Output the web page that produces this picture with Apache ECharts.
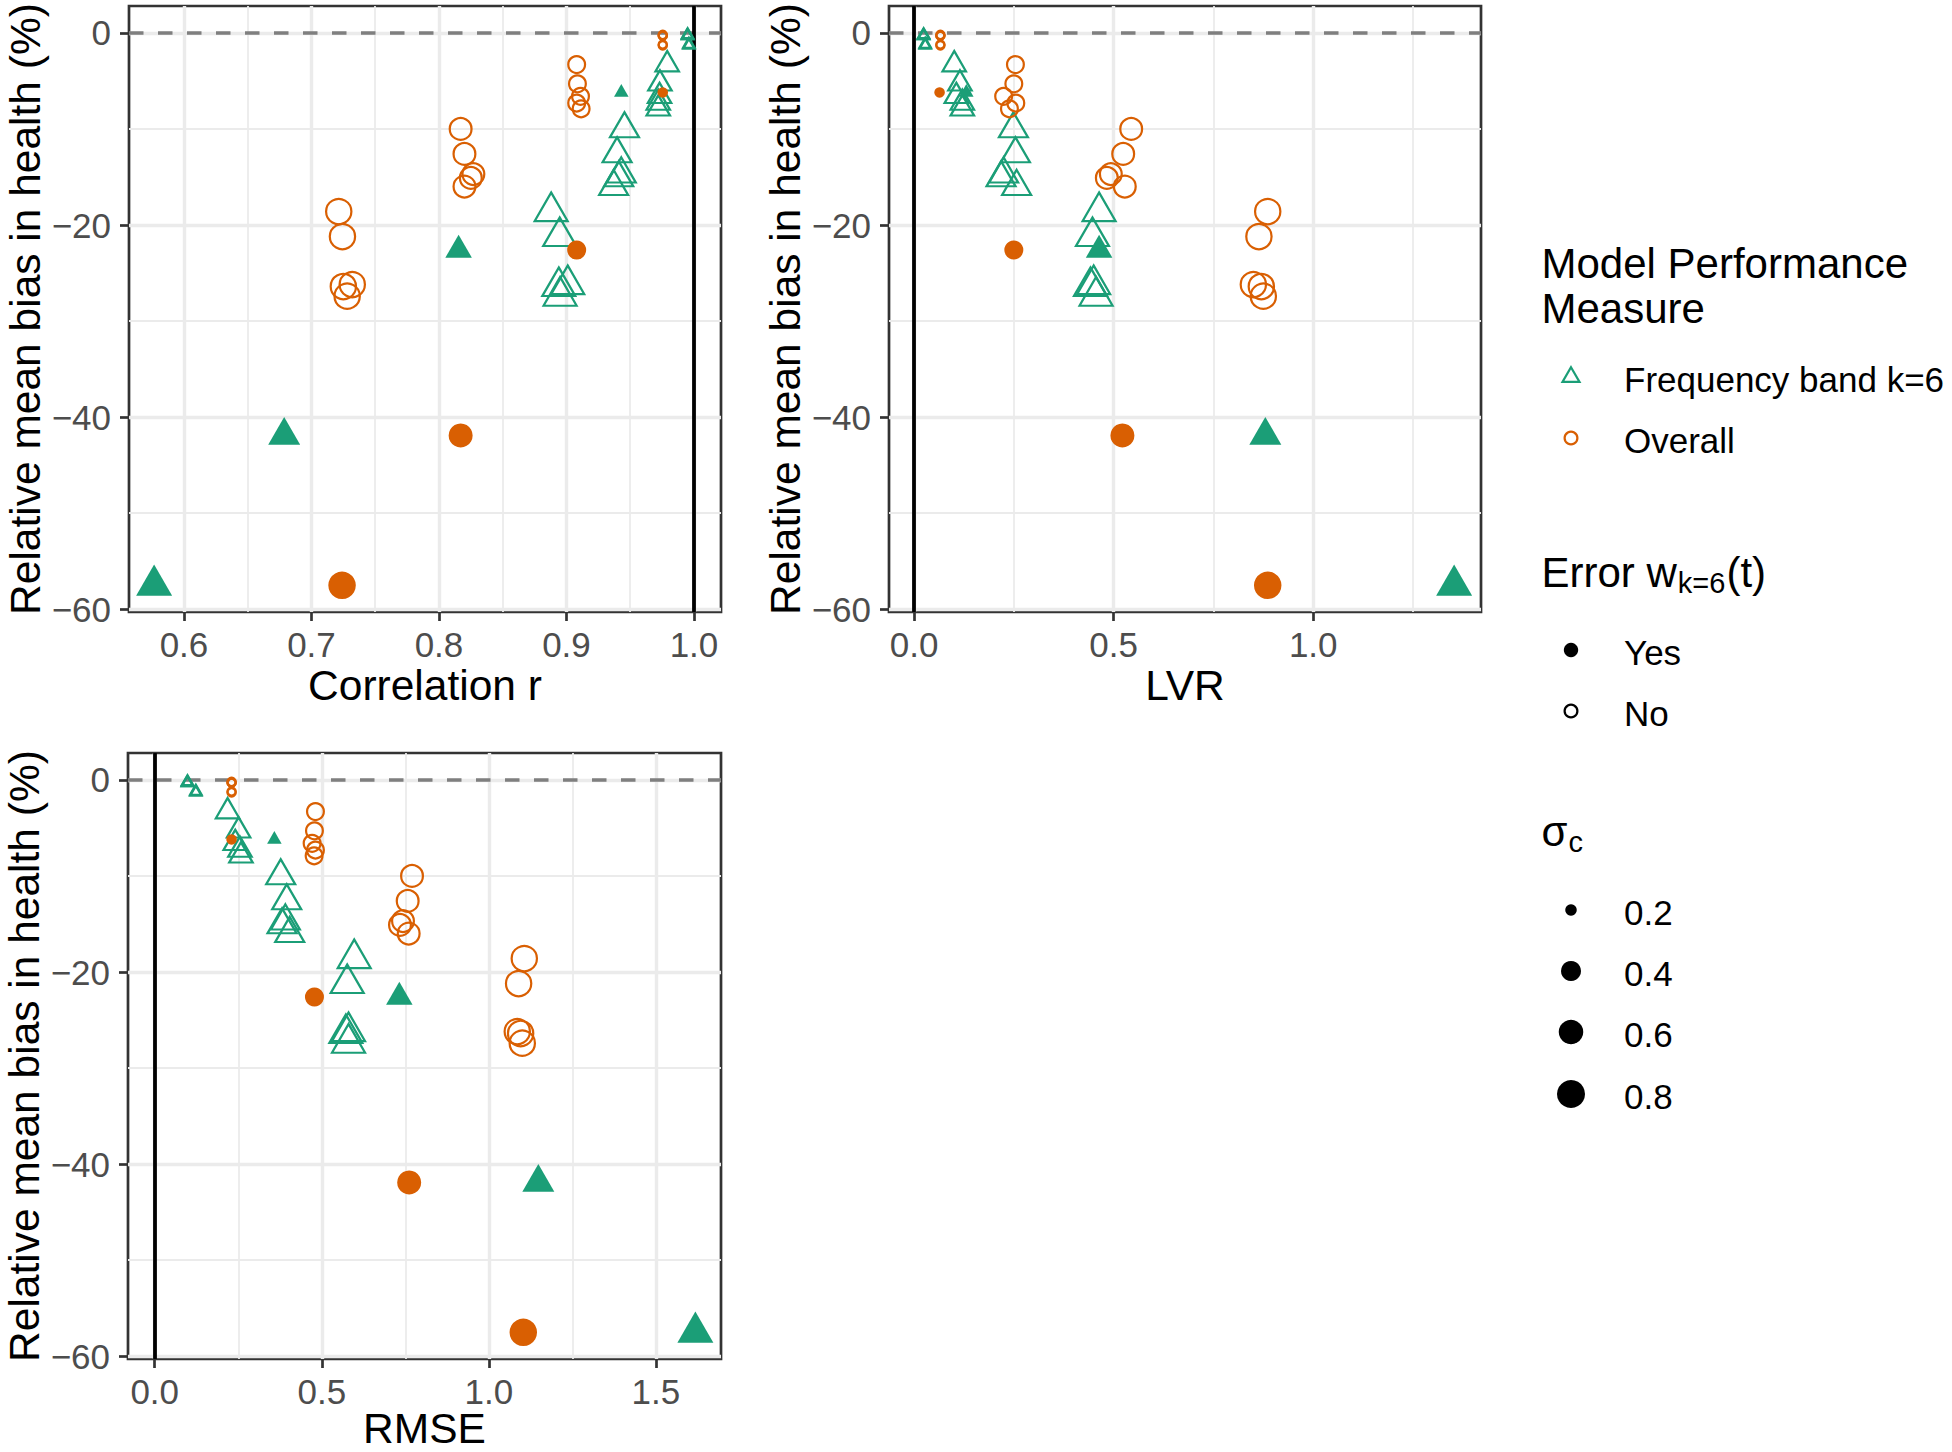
<!DOCTYPE html>
<html>
<head>
<meta charset="utf-8">
<script src="https://cdn.jsdelivr.net/npm/echarts@6/dist/echarts.min.js"></script>
<style>
html,body{margin:0;padding:0;background:#fff;}
#chart{width:1952px;height:1452px;}
</style>
</head>
<body>
<div id="chart"></div>
<script>
// ------------------------------------------------------------------
// DATA (24 scenarios: sigma_c x error in w_k=6(t); same bias for both measures)
// ------------------------------------------------------------------
const sigmaC = [0.2,0.2,0.2,0.2,0.2,0.2, 0.4,0.4,0.4,0.4,0.4,0.4, 0.6,0.6,0.6,0.6,0.6,0.6, 0.8,0.8,0.8,0.8,0.8,0.8];
const errorW = ['Yes','No','No','No','No','No', 'Yes','No','No','No','No','No', 'Yes','No','No','No','No','No', 'Yes','No','No','No','No','No'];
const biasHealth = [-6.2,-0.2,-0.3,-0.3,-1.2,-1.3, -22.6,-3.3,-5.3,-6.6,-7.3,-7.9, -41.9,-10.0,-12.6,-14.7,-15.1,-16.0, -57.5,-18.6,-21.2,-26.2,-26.4,-27.4];

const corrOverall = [0.9755,0.9755,0.9755,0.9755,0.9755,0.9755, 0.908,0.908,0.9086,0.911,0.908,0.9115, 0.817,0.817,0.820,0.827,0.825,0.820, 0.724,0.7214,0.7243,0.732,0.725,0.728];
const corrBand    = [0.943,0.995,0.995,0.995,0.996,0.996, 0.8154,0.979,0.9733,0.973,0.972,0.972, 0.6786,0.9455,0.9397,0.943,0.941,0.937, 0.5766,0.888,0.8947,0.901,0.894,0.895];
const lvrOverall  = [0.064,0.066,0.066,0.066,0.066,0.066, 0.250,0.254,0.250,0.2245,0.255,0.239, 0.522,0.544,0.524,0.493,0.483,0.528, 0.886,0.886,0.864,0.850,0.870,0.875];
const lvrBand     = [0.131,0.024,0.024,0.024,0.028,0.028, 0.4636,0.1007,0.115,0.106,0.121,0.121, 0.880,0.249,0.254,0.2245,0.218,0.257, 1.353,0.4636,0.447,0.450,0.442,0.456];
const rmseOverall = [0.230,0.230,0.230,0.230,0.230,0.230, 0.478,0.481,0.478,0.471,0.481,0.477, 0.7615,0.770,0.757,0.743,0.734,0.760, 1.103,1.106,1.089,1.085,1.095,1.100];
const rmseBand    = [0.358,0.098,0.098,0.098,0.123,0.123, 0.732,0.218,0.251,0.241,0.255,0.258, 1.148,0.377,0.395,0.391,0.381,0.404, 1.618,0.597,0.576,0.580,0.572,0.580];

// reference lines
const refLineX = [1, 0, 0];
const refLineY = [0];

// tick values / labels
const yTicks = [-60, -40, -20, 0];
const yMinor = [-50, -30, -10];
const xTicksCorr = [0.6, 0.7, 0.8, 0.9, 1.0];
const xMinorCorr = [0.65, 0.75, 0.85, 0.95];
const xTicksLvr = [0.0, 0.5, 1.0];
const xMinorLvr = [0.25, 0.75, 1.25];
const xTicksRmse = [0.0, 0.5, 1.0, 1.5];
const xMinorRmse = [0.25, 0.75, 1.25];

const axisTitles = ['Correlation r', 'LVR', 'RMSE'];
const yTitle = 'Relative mean bias in health (%)';
const measureNames = ['Frequency band k=6', 'Overall'];
const errorNames = ['Yes', 'No'];
const sigmaLevels = [0.2, 0.4, 0.6, 0.8];

// ------------------------------------------------------------------
// STYLE / LAYOUT
// ------------------------------------------------------------------
const FONT = '"Liberation Sans", Arial, Helvetica, sans-serif';
const GREEN = '#1B9E77', ORANGE = '#D95F02';
const circleD = {0.2: 10.5, 0.4: 19, 0.6: 24, 0.8: 27.5};
const triW = {0.2: 14.5, 0.4: 26.5, 0.6: 32, 0.8: 36};
const STROKE = 2.2;
const Y_MIN = -60.28, Y_MAX = 2.8;
const TICK_FS = 35, TITLE_FS = 42.5, LEG_TITLE_FS = 42, LEG_FS = 35, SUB_FS = 29;

const panels = [
  {left:129, top:6,   width:592, height:606, xMin:0.5569,  xMax:1.0212, xTicks:xTicksCorr, xMinor:xMinorCorr, xO:corrOverall, xB:corrBand, titleGap:73},
  {left:889, top:6,   width:592, height:606, xMin:-0.0627, xMax:1.4203, xTicks:xTicksLvr,  xMinor:xMinorLvr,  xO:lvrOverall,  xB:lvrBand,  titleGap:73},
  {left:128, top:753, width:593, height:606, xMin:-0.080,  xMax:1.6947, xTicks:xTicksRmse, xMinor:xMinorRmse, xO:rmseOverall, xB:rmseBand, titleGap:69.5}
];

function triItem(x, y, s, open) {
  const w = open ? triW[s] - 3 : triW[s];
  const h = w * 0.866;
  return {value: [x, y], symbolSize: [w, h], symbolOffset: [0, -h / 6]};
}
function circItem(x, y, s, open) {
  const d = open ? circleD[s] - STROKE : circleD[s];
  return {value: [x, y], symbolSize: d};
}
const idx = biasHealth.map((_, k) => k);
const fmt1 = v => v.toFixed(1);
const fmtY = v => (v === 0 ? '0' : '\u2212' + Math.abs(v));

const series = [];
panels.forEach((p, i) => {
  const gridLines = [];
  p.xMinor.forEach(v => gridLines.push({xAxis: v, lineStyle: {color: '#EBEBEB', width: 1.8, type: 'solid'}}));
  yMinor.forEach(v => gridLines.push({yAxis: v, lineStyle: {color: '#EBEBEB', width: 1.8, type: 'solid'}}));
  p.xTicks.forEach(v => gridLines.push({xAxis: v, lineStyle: {color: '#EBEBEB', width: 3.4, type: 'solid'}}));
  yTicks.forEach(v => gridLines.push({yAxis: v, lineStyle: {color: '#EBEBEB', width: 3.4, type: 'solid'}}));
  series.push({
    type: 'scatter', xAxisIndex: i, yAxisIndex: i, z: 1, silent: true, symbol: 'none',
    data: [[p.xMin, Y_MIN]],
    markLine: {silent: true, z: 1, symbol: ['none', 'none'], label: {show: false}, animation: false,
      emphasis: {disabled: true}, data: gridLines}
  });
  const refs = [];
  refLineY.forEach(v => refs.push({yAxis: v, lineStyle: {color: '#7F7F7F', width: 3.6, type: [14.5, 14.5]}}));
  refs.push({xAxis: refLineX[i], lineStyle: {color: '#000000', width: 3.8, type: 'solid'}});
  series.push({
    type: 'scatter', xAxisIndex: i, yAxisIndex: i, z: 2, silent: true, symbol: 'none',
    data: [[p.xMin, Y_MIN]],
    markLine: {silent: true, z: 2, symbol: ['none', 'none'], label: {show: false}, animation: false,
      emphasis: {disabled: true}, data: refs}
  });
  const common = {type: 'scatter', xAxisIndex: i, yAxisIndex: i, z: 3, silent: true, emphasis: {disabled: true}, clip: false};
  series.push(Object.assign({}, common, {
    name: measureNames[0] + ' / No', symbol: 'triangle',
    itemStyle: {color: 'rgba(0,0,0,0)', borderColor: GREEN, borderWidth: STROKE, opacity: 1},
    data: idx.filter(k => errorW[k] === 'No').map(k => triItem(p.xB[k], biasHealth[k], sigmaC[k], true))
  }));
  series.push(Object.assign({}, common, {
    name: measureNames[1] + ' / No', symbol: 'circle',
    itemStyle: {color: 'rgba(0,0,0,0)', borderColor: ORANGE, borderWidth: STROKE, opacity: 1},
    data: idx.filter(k => errorW[k] === 'No').map(k => circItem(p.xO[k], biasHealth[k], sigmaC[k], true))
  }));
  series.push(Object.assign({}, common, {
    name: measureNames[0] + ' / Yes', symbol: 'triangle',
    itemStyle: {color: GREEN, opacity: 1},
    data: idx.filter(k => errorW[k] === 'Yes').map(k => triItem(p.xB[k], biasHealth[k], sigmaC[k], false))
  }));
  series.push(Object.assign({}, common, {
    name: measureNames[1] + ' / Yes', symbol: 'circle',
    itemStyle: {color: ORANGE, opacity: 1},
    data: idx.filter(k => errorW[k] === 'Yes').map(k => circItem(p.xO[k], biasHealth[k], sigmaC[k], false))
  }));
});

// ------------------------------------------------------------------
// GRAPHIC: axis titles + legends
// ------------------------------------------------------------------
const mctx = document.createElement('canvas').getContext('2d');
function tw(text, size) { mctx.font = size + 'px ' + FONT; return mctx.measureText(text).width; }

function textEl(text, x, y, size, opts) {
  opts = opts || {};
  return {
    type: 'text', x: x, y: y, rotation: opts.rotation || 0, silent: true, z: 10,
    style: {text: text, fill: opts.fill || '#000', fontSize: size, fontFamily: FONT,
      align: opts.align || 'left', verticalAlign: 'middle',
      textAlign: opts.align || 'left', textVerticalAlign: 'middle'}
  };
}
const graphics = [];
panels.forEach((p, i) => {
  graphics.push(textEl(axisTitles[i], p.left + p.width / 2, p.top + p.height + p.titleGap, TITLE_FS, {align: 'center'}));
  graphics.push(textEl(yTitle, p.left - 104, p.top + p.height / 2, TITLE_FS, {align: 'center', rotation: Math.PI / 2}));
});

const LX = 1541.5, KX = 1571, TX = 1624;
// legend 1
graphics.push(textEl('Model Performance', LX, 263, LEG_TITLE_FS));
graphics.push(textEl('Measure', LX, 308, LEG_TITLE_FS));
(function () {
  const w = 17, h = w * 0.866, cy = 377;
  graphics.push({type: 'polygon', silent: true, z: 10,
    shape: {points: [[KX, cy - 2 * h / 3], [KX + w / 2, cy + h / 3], [KX - w / 2, cy + h / 3]]},
    style: {fill: 'none', stroke: GREEN, lineWidth: STROKE}});
})();
graphics.push(textEl(measureNames[0], TX, 379, LEG_FS));
graphics.push({type: 'circle', silent: true, z: 10, shape: {cx: KX, cy: 438, r: 6.4},
  style: {fill: 'none', stroke: ORANGE, lineWidth: STROKE}});
graphics.push(textEl(measureNames[1], TX, 440, LEG_FS));
// legend 2
(function () {
  const y = 572;
  const w1 = tw('Error w', LEG_TITLE_FS), w2 = tw('k=6', SUB_FS);
  graphics.push(textEl('Error w', LX, y, LEG_TITLE_FS));
  graphics.push(textEl('k=6', LX + w1 + 1, y + 11, SUB_FS));
  graphics.push(textEl('(t)', LX + w1 + w2 + 2, y, LEG_TITLE_FS));
})();
graphics.push({type: 'circle', silent: true, z: 10, shape: {cx: KX, cy: 650, r: 7.2}, style: {fill: '#000'}});
graphics.push(textEl(errorNames[0], TX, 652, LEG_FS));
graphics.push({type: 'circle', silent: true, z: 10, shape: {cx: KX, cy: 711, r: 6.4},
  style: {fill: 'none', stroke: '#000', lineWidth: STROKE}});
graphics.push(textEl(errorNames[1], TX, 713, LEG_FS));
// legend 3
(function () {
  const y = 831;
  const w1 = tw('\u03C3', LEG_TITLE_FS);
  graphics.push(textEl('\u03C3', LX, y, LEG_TITLE_FS));
  graphics.push(textEl('c', LX + w1 + 1, y + 11, SUB_FS));
})();
const sizeRowY = [910, 971, 1032, 1094];
const sizeKeyD = [11.5, 20, 24.5, 28];
sigmaLevels.forEach((s, j) => {
  graphics.push({type: 'circle', silent: true, z: 10, shape: {cx: KX, cy: sizeRowY[j], r: sizeKeyD[j] / 2}, style: {fill: '#000'}});
  graphics.push(textEl(s.toFixed(1), TX, sizeRowY[j] + 2, LEG_FS));
});

// ------------------------------------------------------------------
const option = {
  animation: false,
  backgroundColor: '#ffffff',
  tooltip: {show: false},
  grid: panels.map(p => ({left: p.left, top: p.top, width: p.width, height: p.height,
    show: true, borderColor: '#333333', borderWidth: 2.7, backgroundColor: '#ffffff',
    containLabel: false, outerBoundsMode: 'none'})),
  xAxis: panels.map((p, i) => ({
    gridIndex: i, type: 'value', min: p.xMin, max: p.xMax,
    axisLine: {show: false, onZero: false},
    splitLine: {show: false}, minorTick: {show: false}, minorSplitLine: {show: false},
    axisTick: {show: true, customValues: p.xTicks, length: 9, lineStyle: {color: '#333333', width: 2.7}},
    axisLabel: {show: true, customValues: p.xTicks, formatter: fmt1, margin: 15,
      color: '#4D4D4D', fontSize: TICK_FS, fontFamily: FONT}
  })),
  yAxis: panels.map((p, i) => ({
    gridIndex: i, type: 'value', min: Y_MIN, max: Y_MAX,
    axisLine: {show: false, onZero: false},
    splitLine: {show: false}, minorTick: {show: false}, minorSplitLine: {show: false},
    axisTick: {show: true, customValues: yTicks, length: 9, lineStyle: {color: '#333333', width: 2.7}},
    axisLabel: {show: true, customValues: yTicks, formatter: fmtY, margin: 18,
      color: '#4D4D4D', fontSize: TICK_FS, fontFamily: FONT}
  })),
  series: series,
  graphic: graphics
};

const chart = echarts.init(document.getElementById('chart'), null, {renderer: 'svg'});
chart.setOption(option);
</script>
</body>
</html>
